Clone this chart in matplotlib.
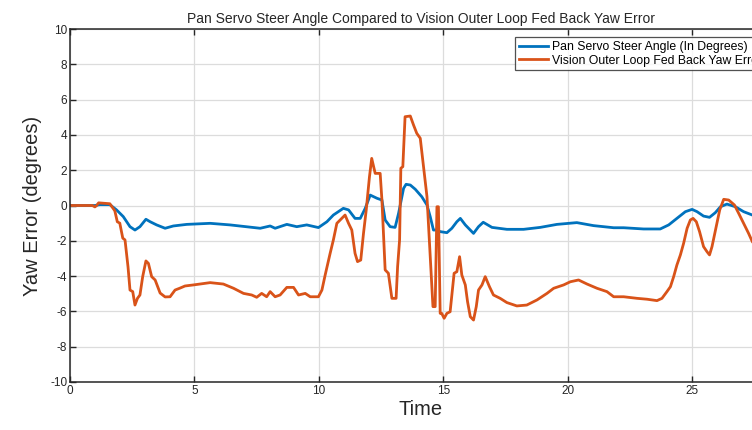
import matplotlib
matplotlib.use("Agg")
import matplotlib.pyplot as plt
import numpy as np

plt.rcParams["font.family"] = ["Liberation Sans", "DejaVu Sans"]
plt.rcParams["axes.unicode_minus"] = False

# Pan servo steer angle (degrees)
servo_t = [0.0, 1.0, 1.2, 1.6, 1.87, 2.14, 2.41, 2.61, 2.81, 3.05, 3.22, 3.48,
           3.82, 4.15, 4.69, 5.63, 6.43, 7.64, 8.04, 8.24, 8.71, 9.11, 9.51,
           9.98, 10.32, 10.58, 10.98, 11.19, 11.45, 11.66, 11.86, 12.06, 12.33,
           12.53, 12.66, 12.86, 13.06, 13.2, 13.4, 13.5, 13.67, 13.87, 14.13,
           14.34, 14.47, 14.6, 14.74, 14.87, 15.14, 15.34, 15.54, 15.68, 15.88,
           16.21, 16.41, 16.6, 16.95, 17.55, 18.22, 18.89, 19.56, 20.36, 21.03,
           21.84, 22.24, 23.04, 23.71, 24.05, 24.38, 24.72, 24.99, 25.19, 25.45,
           25.69, 25.92, 26.13, 26.39, 26.73, 27.06, 27.41, 28.2]
servo_y = [0.0, 0.0, 0.05, 0.05, -0.25, -0.63, -1.2, -1.39, -1.2, -0.78, -0.92,
           -1.1, -1.29, -1.16, -1.07, -1.01, -1.1, -1.29, -1.16, -1.29, -1.07,
           -1.2, -1.1, -1.25, -0.92, -0.54, -0.16, -0.25, -0.73, -0.73, -0.16,
           0.59, 0.41, 0.31, -0.82, -1.2, -1.24, -0.44, 0.97, 1.2, 1.16, 0.92,
           0.5, 0.03, -0.63, -1.39, -1.39, -1.48, -1.54, -1.29, -0.92, -0.73,
           -1.1, -1.58, -1.2, -0.95, -1.24, -1.35, -1.35, -1.24, -1.07, -0.97,
           -1.14, -1.26, -1.26, -1.33, -1.33, -1.1, -0.73, -0.35, -0.22, -0.35,
           -0.6, -0.67, -0.41, -0.07, 0.08, -0.07, -0.35, -0.54, -0.9]

# Vision outer loop fed back yaw error (degrees)
vision_t = [0.0, 0.9, 1.0, 1.07, 1.15, 1.6, 1.8, 1.9, 2.0, 2.12, 2.21, 2.33,
            2.41, 2.52, 2.61, 2.71, 2.81, 2.92, 3.05, 3.15, 3.28, 3.42, 3.62,
            3.82, 4.02, 4.22, 4.42, 4.62, 4.96, 5.63, 6.16, 6.57, 6.97, 7.3,
            7.5, 7.7, 7.9, 8.04, 8.24, 8.44, 8.71, 8.98, 9.18, 9.45, 9.65, 9.98,
            10.12, 10.25, 10.45, 10.58, 10.72, 10.92, 11.05, 11.19, 11.32,
            11.45, 11.55, 11.68, 11.79, 11.9, 12.03, 12.12, 12.26, 12.46,
            12.53, 12.66, 12.79, 12.93, 13.1, 13.16, 13.24, 13.29, 13.37,
            13.46, 13.67, 13.8, 13.93, 14.07, 14.2, 14.34, 14.47, 14.58, 14.67,
            14.74, 14.8, 14.87, 14.93, 15.03, 15.14, 15.27, 15.43, 15.54, 15.65,
            15.74, 15.88, 15.97, 16.08, 16.21, 16.32, 16.41, 16.55, 16.68,
            16.85, 17.01, 17.28, 17.55, 17.95, 18.35, 18.76, 19.16, 19.43,
            19.83, 20.1, 20.43, 20.77, 21.17, 21.57, 21.84, 22.24, 22.78,
            23.18, 23.58, 23.78, 23.98, 24.12, 24.25, 24.38, 24.52, 24.65,
            24.79, 24.92, 25.03, 25.16, 25.29, 25.45, 25.59, 25.69, 25.79,
            25.96, 26.1, 26.26, 26.46, 26.69, 26.86, 27.06, 27.26, 27.41, 28.2]
vision_y = [0.0, 0.0, -0.08, 0.0, 0.15, 0.1, -0.3, -0.92, -1.0, -1.85, -1.95,
            -3.47, -4.79, -4.88, -5.64, -5.26, -5.07, -4.03, -3.14, -3.28,
            -4.03, -4.22, -4.96, -5.18, -5.17, -4.79, -4.68, -4.56, -4.5, -4.37,
            -4.45, -4.69, -4.98, -5.07, -5.2, -4.98, -5.17, -4.88, -5.17, -5.07,
            -4.64, -4.64, -5.07, -4.98, -5.17, -5.17, -4.79, -3.94, -2.71,
            -1.95, -1.01, -0.73, -0.54, -1.01, -1.39, -2.71, -3.18, -3.09,
            -1.58, -0.25, 1.63, 2.67, 1.82, 1.82, 0.31, -3.65, -3.84, -5.26,
            -5.26, -3.47, -1.95, 2.11, 2.2, 5.03, 5.07, 4.56, 4.09, 3.81, 2.2,
            0.5, -2.9, -5.73, -5.73, -0.07, -0.07, -6.11, -6.11, -6.39, -6.11,
            -6.02, -3.84, -3.75, -2.9, -3.94, -4.5, -5.45, -6.3, -6.49, -5.73,
            -4.79, -4.5, -4.03, -4.6, -5.07, -5.26, -5.5, -5.69, -5.64, -5.35,
            -4.98, -4.69, -4.5, -4.32, -4.22, -4.45, -4.69, -4.88, -5.17, -5.17,
            -5.26, -5.31, -5.39, -5.26, -4.88, -4.6, -4.03, -3.37, -2.8, -2.14,
            -1.29, -0.82, -0.73, -0.92, -1.48, -2.33, -2.62, -2.8, -2.33, -1.2,
            -0.25, 0.35, 0.31, 0.03, -0.44, -1.01, -1.58, -2.05, -3.5]

labels = ["Pan Servo Steer Angle (In Degrees)",
          "Vision Outer Loop Fed Back Yaw Error"]
x_ticks = [0, 5, 10, 15, 20, 25]
y_ticks = np.arange(-10, 11, 2)

fig = plt.figure(figsize=(7.52, 4.30), dpi=100)
# axes runs past the right edge, as in the cropped original
ax = fig.add_axes([70 / 752, 48 / 430, 702 / 752, 353 / 430])

ax.plot(servo_t, servo_y, color="#0072BD", lw=2.0, label=labels[0])
ax.plot(vision_t, vision_y, color="#D95319", lw=2.0, label=labels[1])

ax.set_xlim(0, 28.2)
ax.set_ylim(-10, 10)
ax.set_xticks(x_ticks)
ax.set_yticks(y_ticks)
ax.grid(True, color="#dcdcdc", lw=0.9)
ax.set_axisbelow(True)
ax.tick_params(direction="in", length=4, width=1, labelsize=8.5,
               colors="#262626", top=True, right=True, pad=2)
for s in ax.spines.values():
    s.set_color("#262626")
    s.set_linewidth(1.1)

ax.set_title("Pan Servo Steer Angle Compared to Vision Outer Loop Fed Back Yaw Error",
             fontsize=10, color="#262626", pad=4)
ax.set_xlabel("Time", fontsize=14.5, color="#262626", labelpad=2)
ax.set_ylabel("Yaw Error (degrees)", fontsize=14.5, color="#262626", labelpad=6)

leg = ax.legend(loc="upper left", bbox_to_anchor=(0.634, 0.977), fontsize=8.8,
                frameon=True, fancybox=False, handlelength=2.4,
                borderpad=0.3, labelspacing=0.15, handletextpad=0.3,
                borderaxespad=0)
leg.get_frame().set_edgecolor("#262626")
leg.get_frame().set_linewidth(0.9)

fig.savefig("out.png", dpi=100)
